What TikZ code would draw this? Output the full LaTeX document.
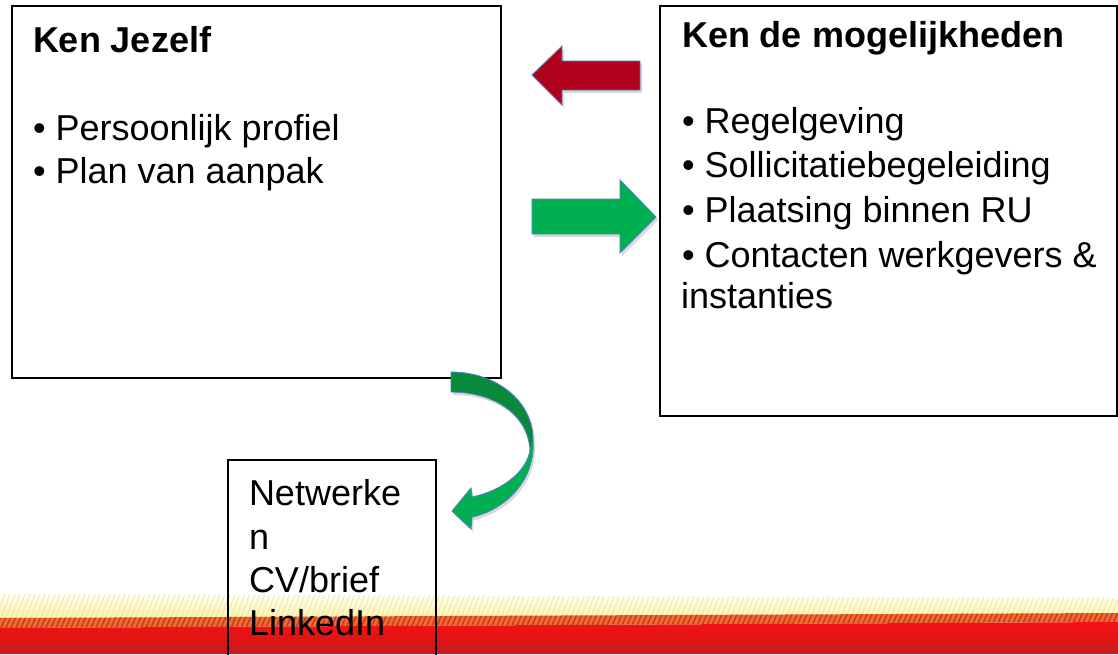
\documentclass[tikz,border=0pt]{standalone}
\usepackage{fontspec}
\setmainfont{Liberation Sans}
\definecolor{arrred}{HTML}{AF001C}
\definecolor{arrgreen}{HTML}{00B050}
\definecolor{arrdkgreen}{HTML}{08893C}
\definecolor{arrline}{HTML}{4F81BD}
\definecolor{bandyellow}{HTML}{FAF3B0}
\definecolor{hatchyellow}{HTML}{EFE27A}
\definecolor{bandorange}{HTML}{EE6A30}
\definecolor{hatchdark}{HTML}{B02010}
\definecolor{bandred}{HTML}{F01414}
\definecolor{banddark}{HTML}{BE1E22}
\tikzset{
  box/.style={draw=black, line width=1.3pt, rectangle, inner sep=0pt, outer sep=0pt, anchor=north west},
  txt/.style={anchor=base west, inner sep=0pt, outer sep=0pt, font=\fontsize{36}{43}\selectfont},
  ttl/.style={anchor=base west, inner sep=0pt, outer sep=0pt, font=\fontsize{36}{43}\selectfont\bfseries},
  blockarrow/.style={draw=arrline, line width=0.9pt, line join=miter},
  dropshadow/.style={fill=black, opacity=0.15, draw=none}
}
\begin{document}
\begin{tikzpicture}[x=1pt,y=-1pt]
\useasboundingbox (0,0) rectangle (1118,654);
\fill[white] (0,0) rectangle (1118,654);

% ---- bottom banner ----
\shade[top color=white, bottom color=bandyellow] (0,594) -- (1118,598) -- (1118,613) -- (0,618) -- cycle;
\begin{scope}
  \clip (0,594) -- (1118,598) -- (1118,613) -- (0,618) -- cycle;
  \foreach \x in {-20,-15,...,1130} \draw[hatchyellow, line width=1.2pt, opacity=0.6] (\x,620) -- ({\x+10},594);
\end{scope}
\fill[bandorange] (0,618) -- (1118,613) -- (1118,622) -- (0,628) -- cycle;
\begin{scope}
  \clip (0,618) -- (1118,613) -- (1118,622) -- (0,628) -- cycle;
  \foreach \x in {-20,-15,...,1130} \draw[hatchdark, line width=1.2pt, opacity=0.7] (\x,630) -- ({\x+8},612);
\end{scope}
\shade[top color=bandred, bottom color=banddark, middle color=bandred!95!black] (0,628) -- (1118,622) -- (1118,654) -- (0,654) -- cycle;

% ---- boxes ----
\node[box, minimum width=489pt, minimum height=372pt] (jezelf) at (12,6) {};
\node[box, minimum width=457pt, minimum height=410pt] (mogelijk) at (660,6) {};
\node[box, minimum width=208pt, minimum height=198pt] (netwerk) at (228,460) {};

% ---- texts ----
\node[ttl] (t1) at (33,52) {Ken Jezelf};
\node[txt] (t2) at (33,140) {• Persoonlijk profiel};
\node[txt] (t3) at (33,183) {• Plan van aanpak};

\node[ttl] (r1) at (682,47) {Ken de mogelijkheden};
\node[txt] (r2) at (682,133) {• Regelgeving};
\node[txt] (r3) at (682,177) {• Sollicitatiebegeleiding};
\node[txt] (r4) at (682,222) {• Plaatsing binnen RU};
\node[txt] (r5) at (682,267) {• Contacten werkgevers \&};
\node[txt] (r6) at (681,308) {instanties};

\node[txt] (b1) at (249,505) {Netwerke};
\node[txt] (b2) at (249,549) {n};
\node[txt] (b3) at (249,592) {CV/brief};
\node[txt] (b4) at (249,635) {LinkedIn};

% ---- red block arrow (right to left) ----
\fill[dropshadow] (534,78) -- (564,49) -- (564,64) -- (642,64) -- (642,93) -- (564,93) -- (564,108) -- cycle;
\filldraw[blockarrow, fill=arrred] (532,75) -- (562,46) -- (562,61) -- (640,61) -- (640,90) -- (562,90) -- (562,105) -- cycle;

% ---- green block arrow (left to right) ----
\fill[dropshadow] (534,202) -- (622,202) -- (622,183) -- (658,220) -- (622,256) -- (622,237) -- (534,237) -- cycle;
\filldraw[blockarrow, fill=arrgreen] (532,199) -- (620,199) -- (620,180) -- (656,217) -- (620,253) -- (620,234) -- (532,234) -- cycle;

% ---- curved green arrow ----
\fill[dropshadow] (453,375) .. controls (497,375) and (535,403) .. (535,443)
  .. controls (538,483) and (507,513) .. (474,520) -- (473,532) -- (454,514) -- (473,491) -- (474,500)
  .. controls (507,493) and (529,473) .. (532,453) .. controls (530,418) and (497,395) .. (453,395) -- cycle;
\fill[arrgreen] (533,440) .. controls (536,480) and (505,510) .. (472,517) -- (471,529) -- (452,511) -- (471,488) -- (472,497)
  .. controls (505,490) and (527,470) .. (530,450) -- cycle;
\fill[arrdkgreen] (451,372) .. controls (495,372) and (533,400) .. (533,440) -- (530,450)
  .. controls (528,415) and (495,392) .. (451,392) -- cycle;
\draw[blockarrow] (451,372) .. controls (495,372) and (533,400) .. (533,440)
  .. controls (536,480) and (505,510) .. (472,517) -- (471,529) -- (452,511) -- (471,488) -- (472,497)
  .. controls (505,490) and (527,470) .. (530,450) .. controls (528,415) and (495,392) .. (451,392) -- cycle;
\end{tikzpicture}
\end{document}
